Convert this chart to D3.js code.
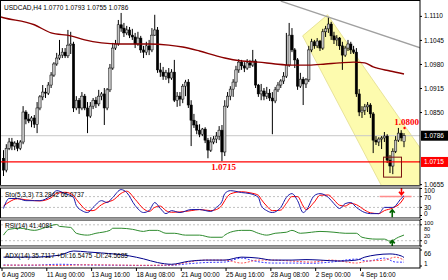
<!DOCTYPE html>
<html>
<head>
<meta charset="utf-8">
<script src="https://cdn.jsdelivr.net/npm/d3@7"></script>
<style>
  body { margin: 0; background: #fff; }
  svg text { font-family: "Liberation Sans", Arial, sans-serif; font-size: 6.5px; fill: #000; }
</style>
</head>
<body>
<svg id="chart" width="448" height="280"></svg>
<script>
// USDCAD H4 candles, [open, high, low, close], 6 Aug 08:00 .. 8 Sep 2009
const candles = [
  [1.0725,1.0747,1.0677,1.0693],[1.0693,1.0763,1.0687,1.0752],[1.0752,1.0780,1.0747,1.0769],[1.0769,1.0780,1.0747,1.0758],
  [1.0758,1.0771,1.0747,1.0766],[1.0766,1.0774,1.0744,1.0752],[1.0752,1.0774,1.0747,1.0769],[1.0769,1.0866,1.0763,1.0850],
  [1.0850,1.0855,1.0817,1.0831],[1.0831,1.0845,1.0820,1.0826],[1.0826,1.0839,1.0809,1.0834],[1.0834,1.0842,1.0807,1.0817],
  [1.0817,1.0877,1.0793,1.0861],[1.0861,1.0896,1.0855,1.0891],[1.0891,1.0923,1.0882,1.0904],[1.0904,1.0915,1.0888,1.0901],
  [1.0901,1.0931,1.0896,1.0923],[1.0923,1.0958,1.0915,1.0950],[1.0950,1.0985,1.0945,1.0980],[1.0980,1.1010,1.0975,1.0996],
  [1.0996,1.1045,1.0991,1.1004],[1.1004,1.1023,1.0996,1.1012],[1.1012,1.1023,1.0996,1.1002],[1.1002,1.1072,1.0996,1.1031],
  [1.1031,1.1067,1.1007,1.1034],[1.1034,1.1040,1.0850,1.0861],[1.0861,1.0893,1.0855,1.0882],[1.0882,1.0888,1.0845,1.0861],
  [1.0861,1.0904,1.0855,1.0893],[1.0893,1.0899,1.0855,1.0861],[1.0861,1.0877,1.0793,1.0839],[1.0839,1.0877,1.0834,1.0866],
  [1.0866,1.0888,1.0858,1.0882],[1.0882,1.0891,1.0861,1.0872],[1.0872,1.0910,1.0866,1.0893],[1.0893,1.0904,1.0882,1.0899],
  [1.0899,1.0915,1.0815,1.0861],[1.0861,1.0915,1.0855,1.0910],[1.0910,1.0980,1.0904,1.0969],[1.0969,1.1037,1.0964,1.1023],
  [1.1023,1.1045,1.1018,1.1034],[1.1034,1.1099,1.1029,1.1086],[1.1086,1.1118,1.1067,1.1077],[1.1077,1.1091,1.1053,1.1064],
  [1.1064,1.1083,1.1058,1.1072],[1.1072,1.1080,1.1050,1.1058],[1.1058,1.1075,1.1045,1.1053],[1.1053,1.1064,1.1023,1.1034],
  [1.1034,1.1067,1.1029,1.1050],[1.1050,1.1056,1.1010,1.1018],[1.1018,1.1029,1.0996,1.1012],[1.1012,1.1040,1.1004,1.1029],
  [1.1029,1.1045,1.1004,1.1018],[1.1018,1.1077,1.1012,1.1058],[1.1058,1.1113,1.1056,1.1072],[1.1072,1.1080,1.0956,1.0964],
  [1.0964,1.0983,1.0945,1.0958],[1.0958,1.0972,1.0937,1.0947],[1.0947,1.0964,1.0937,1.0956],[1.0956,1.0969,1.0928,1.0942],
  [1.0942,1.0966,1.0937,1.0958],[1.0958,1.0991,1.0877,1.0882],[1.0882,1.0904,1.0864,1.0893],[1.0893,1.0904,1.0866,1.0885],
  [1.0885,1.0926,1.0874,1.0920],[1.0920,1.0937,1.0893,1.0931],[1.0931,1.0939,1.0861,1.0869],[1.0869,1.0882,1.0758,1.0828],
  [1.0828,1.0845,1.0807,1.0815],[1.0815,1.0826,1.0790,1.0801],[1.0801,1.0817,1.0782,1.0790],[1.0790,1.0807,1.0785,1.0804],
  [1.0804,1.0809,1.0766,1.0774],[1.0774,1.0780,1.0725,1.0747],[1.0747,1.0782,1.0742,1.0769],[1.0769,1.0785,1.0763,1.0777],
  [1.0777,1.0796,1.0766,1.0785],[1.0785,1.0812,1.0774,1.0801],[1.0801,1.0815,1.0717,1.0742],[1.0742,1.0882,1.0731,1.0866],
  [1.0866,1.0904,1.0861,1.0893],[1.0893,1.0920,1.0882,1.0912],[1.0912,1.0939,1.0891,1.0931],[1.0931,1.0975,1.0918,1.0964],
  [1.0964,1.0993,1.0956,1.0985],[1.0985,1.0991,1.0964,1.0975],[1.0975,1.0985,1.0958,1.0969],[1.0969,1.0993,1.0964,1.0983],
  [1.0983,1.0991,1.0969,1.0977],[1.0977,1.1018,1.0972,1.0988],[1.0988,1.0993,1.0915,1.0923],[1.0923,1.0926,1.0891,1.0899],
  [1.0899,1.0926,1.0882,1.0907],[1.0907,1.0915,1.0882,1.0893],[1.0893,1.0918,1.0885,1.0901],[1.0901,1.0912,1.0880,1.0888],
  [1.0888,1.0904,1.0790,1.0880],[1.0880,1.0918,1.0874,1.0910],[1.0910,1.0931,1.0904,1.0923],[1.0923,1.0939,1.0915,1.0934],
  [1.0934,1.0958,1.0926,1.0947],[1.0947,1.1064,1.0942,1.0977],[1.0977,1.1091,1.0972,1.1058],[1.1058,1.1077,1.1012,1.1018],
  [1.1018,1.1023,1.0969,1.0991],[1.0991,1.0996,1.0910,1.0920],[1.0920,1.0956,1.0915,1.0939],[1.0939,1.0945,1.0869,1.0926],
  [1.0926,1.0942,1.0915,1.0937],[1.0937,1.1029,1.0931,1.1018],[1.1018,1.1048,1.1012,1.1040],[1.1040,1.1045,1.1021,1.1029],
  [1.1029,1.1050,1.1023,1.1042],[1.1042,1.1045,1.1015,1.1023],[1.1023,1.1075,1.1018,1.1067],[1.1067,1.1083,1.1053,1.1075],
  [1.1075,1.1105,1.1064,1.1088],[1.1088,1.1094,1.1045,1.1056],[1.1056,1.1067,1.1034,1.1045],[1.1045,1.1058,1.1029,1.1050],
  [1.1050,1.1053,1.1018,1.1029],[1.1029,1.1040,1.0964,1.1004],[1.1004,1.1029,1.0999,1.1023],[1.1023,1.1045,1.1015,1.1034],
  [1.1034,1.1040,1.1007,1.1018],[1.1018,1.1029,1.1007,1.1012],[1.1012,1.1023,1.0891,1.0899],[1.0899,1.0912,1.0839,1.0850],
  [1.0850,1.0866,1.0834,1.0855],[1.0855,1.0872,1.0842,1.0864],[1.0864,1.0877,1.0850,1.0869],[1.0869,1.0874,1.0834,1.0845],
  [1.0845,1.0850,1.0739,1.0774],[1.0774,1.0785,1.0761,1.0769],[1.0769,1.0782,1.0758,1.0777],[1.0777,1.0785,1.0750,1.0780],
  [1.0780,1.0796,1.0769,1.0785],[1.0785,1.0790,1.0712,1.0720],[1.0720,1.0734,1.0685,1.0704],[1.0704,1.0752,1.0682,1.0744],
  [1.0744,1.0785,1.0739,1.0774],[1.0774,1.0807,1.0769,1.0793],[1.0793,1.0801,1.0771,1.0780],[1.0770,1.0793,1.0755,1.0786]
];

// moving average: [bar, price]
const maPoints = [[-1,1.1107],[0,1.1105],[11,1.1086],[17,1.1064],[24,1.1056],[29,1.1045],[35,1.1037],[41,1.1034],[46,1.1034],
  [52,1.1034],[59,1.1031],[64,1.1026],[70,1.1015],[76,1.1002],[79,1.0996],[85,1.0988],[91,1.0985],[97,1.0980],[103,1.0977],
  [109,1.0977],[115,1.0980],[120,1.0983],[125,1.0985],[129,1.0983],[132,1.0972],[138,1.0961],[143,1.0953]];

// Stochastic(5,3,3): [bar, value]
const stochMain = [[0,26],[2,63],[5,63],[8,55],[11,55],[13,55],[17,74],[19,92],[22,81],[25,67],[26,37],[28,18],[30,11],[32,30],
  [35,55],[37,48],[39,67],[42,96],[44,85],[47,37],[50,11],[52,18],[54,48],[56,26],[58,7],[60,18],[63,11],[67,22],[70,22],[74,15],
  [76,30],[78,52],[79,81],[81,92],[85,85],[88,81],[91,67],[92,37],[94,18],[96,11],[99,30],[101,67],[103,81],[105,55],[107,11],
  [108,18],[111,74],[113,81],[116,67],[118,44],[120,26],[122,44],[124,48],[126,30],[129,11],[131,7],[134,7],[136,30],[139,30],
  [142,63],[143,73.28]];
const stochSignal = [[0,35],[2,50],[5,62],[8,58],[11,55],[13,54],[17,66],[19,82],[22,86],[25,74],[26,60],[28,35],[30,18],[32,18],
  [35,40],[37,50],[39,56],[42,82],[44,90],[47,60],[50,25],[52,15],[54,30],[56,35],[58,18],[60,12],[63,13],[67,18],[70,22],[74,18],
  [76,22],[78,38],[79,55],[81,80],[85,88],[88,84],[91,75],[92,60],[94,35],[96,18],[99,20],[101,45],[103,70],[105,70],[107,35],
  [108,22],[111,50],[113,75],[116,76],[118,58],[120,38],[122,35],[124,45],[126,40],[129,20],[131,10],[134,7],[136,18],[139,28],
  [142,50],[143,66.07]];

// RSI(14)
const rsiPoints = [[0,41],[2,63],[6,67],[11,59],[15,70],[19,81],[20,74],[24,70],[26,48],[30,41],[33,48],[38,59],[39,67],[42,67],
  [46,63],[50,55],[52,59],[55,59],[58,48],[61,48],[65,41],[70,41],[74,33],[78,33],[79,41],[81,52],[85,59],[88,59],[91,48],[94,41],
  [97,48],[101,52],[103,59],[106,48],[110,52],[113,55],[118,52],[122,48],[126,48],[128,33],[133,26],[136,26],[138,18],[141,33],
  [143,41.41]];

// ADX(14), +DI, -DI
const adxPoints = [[0,37],[10,37],[20,45],[25,62],[30,58],[35,54],[45,42],[50,30],[55,15],[60,8],[66,20],[72,25],[79,25],[85,37],
  [91,33],[96,25],[103,25],[108,27],[113,25],[120,21],[126,25],[129,37],[133,46],[138,50],[142,42],[143,35.71]];
const plusDi = [[0,5],[10,4],[20,8],[30,5],[40,4],[50,3],[60,4],[66,10],[72,15],[79,17],[85,33],[90,20],[96,13],[103,13],[110,12],
  [117,17],[126,29],[130,21],[136,33],[140,17],[143,16.55]];
const minusDi = [[0,4],[10,5],[20,3],[30,6],[40,5],[50,4],[60,5],[66,17],[72,25],[79,25],[85,13],[91,25],[96,25],[103,21],[110,17],
  [117,25],[126,13],[130,21],[136,25],[140,37],[143,24.57]];

const priceTicks = [1.1110, 1.1045, 1.0980, 1.0915, 1.0850, 1.0655];
const dateBars = [0, 16, 32, 48, 64, 80, 96, 112, 128];
const dateLabels = ["6 Aug 2009","11 Aug 00:00","13 Aug 16:00","18 Aug 08:00","21 Aug 00:00","25 Aug 16:00","28 Aug 08:00","2 Sep 00:00","4 Sep 16:00"];

// drawn objects
const supportLevel = 1.0715;
const bidPrice = 1.0786;
const trendLine = [[99,1.1150],[149,1.1023]];
const channel = [[106.8,1.1056],[115.7,1.1113],[149.3,1.0747],[149.3,1.0640],[135.7,1.0640]];
const boxBars = [135.7, 142.1], boxPrices = [1.0674, 1.0728];

const svg = d3.select("#chart");
const plotR = 420;
const panels = { main:[0.5,185.5], stoch:[188,218], rsi:[220,246], adx:[248,268] };

const x = d3.scaleLinear().domain([0,143]).range([3.5,404]);
const y = d3.scaleLinear().domain([1.0650,1.1153]).range([186,0]);
const yStoch = d3.scaleLinear().domain([0,100]).range([215.5,188.5]);
const yRsi = d3.scaleLinear().domain([0,100]).range([246,219.5]);
const yAdx = d3.scaleLinear().domain([1,66]).range([266,250]);

// clip paths per panel
const defs = svg.append("defs");
Object.entries(panels).forEach(([k,[t,b]]) => {
  defs.append("clipPath").attr("id","clip-"+k)
    .append("rect").attr("x",1).attr("y",t+0.5).attr("width",plotR-1).attr("height",b-t-1);
});

const main = svg.append("g").attr("clip-path","url(#clip-main)");

// yellow channel
main.append("path")
  .attr("d", d3.line().x(d => x(d[0])).y(d => y(d[1]))(channel) + "Z")
  .attr("fill","#fdfbae").attr("stroke","#e2dc8c").attr("stroke-width",0.8);

// bid line
main.append("line").attr("x1",1).attr("x2",plotR).attr("y1",y(bidPrice)).attr("y2",y(bidPrice))
  .attr("stroke","#c8c8c8").attr("stroke-width",1);

// gray trend line
main.append("line")
  .attr("x1",x(trendLine[0][0])).attr("y1",y(trendLine[0][1]))
  .attr("x2",x(trendLine[1][0])).attr("y2",y(trendLine[1][1]))
  .attr("stroke","#a0a0a0").attr("stroke-width",1.3);

// candles
const cg = main.append("g");
candles.forEach((c,i) => {
  const [o,h,l,cl] = c;
  const cx = x(i);
  cg.append("line").attr("x1",cx).attr("x2",cx).attr("y1",y(h)).attr("y2",y(l))
    .attr("stroke","#000").attr("stroke-width",1);
  const top = y(Math.max(o,cl)), bot = y(Math.min(o,cl));
  cg.append("rect").attr("x",cx-1.2).attr("width",2.4)
    .attr("y",top).attr("height",Math.max(0.8,bot-top))
    .attr("fill", cl >= o ? "#c4c4c4" : "#000")
    .attr("stroke","#000").attr("stroke-width",0.5);
});

// moving average
main.append("path").datum(maPoints)
  .attr("d", d3.line().x(d => x(d[0])).y(d => y(d[1])).curve(d3.curveMonotoneX))
  .attr("fill","none").attr("stroke","#8b0000").attr("stroke-width",1.4);

// support line
main.append("line").attr("x1",1).attr("x2",plotR).attr("y1",y(supportLevel)).attr("y2",y(supportLevel))
  .attr("stroke","#ff0000").attr("stroke-width",1.2);

// rectangle around the low
main.append("rect")
  .attr("x",x(boxBars[0])).attr("width",x(boxBars[1])-x(boxBars[0]))
  .attr("y",y(boxPrices[1])).attr("height",y(boxPrices[0])-y(boxPrices[1]))
  .attr("fill","none").attr("stroke","#7a1010").attr("stroke-width",1);

// red text labels
function redText(bar, price, label) {
  svg.append("text").attr("x",x(bar)).attr("y",y(price)).attr("dy","0.35em").attr("text-anchor","middle")
    .style("font-family","'Liberation Serif','Times New Roman',serif").style("font-size","9px").style("font-weight","bold")
    .style("fill","#ff0000").text(label);
}
redText(78.6, 1.0701, "1.0715");
redText(143.9, 1.0824, "1.0800");
main.append("circle").attr("cx",x(143.2)).attr("cy",y(1.0807)).attr("r",1.2).attr("fill","#ff0000");

// title
svg.append("text").attr("x",4).attr("y",7.5).attr("dy","0.35em").text("USDCAD,H4  1.0770 1.0793 1.0755 1.0786");

// ---- stochastic panel
const sg = svg.append("g").attr("clip-path","url(#clip-stoch)");
[70,30].forEach(v => sg.append("line").attr("x1",1).attr("x2",plotR).attr("y1",yStoch(v)).attr("y2",yStoch(v))
  .attr("stroke","#c0c0c0").attr("stroke-dasharray","2,2"));
sg.append("line").attr("x1",x(134.3)).attr("x2",x(145.7)).attr("y1",yStoch(70)).attr("y2",yStoch(70))
  .attr("stroke","#ff8c8c").attr("stroke-width",1.5);
const lineS = d3.line().x(d => x(d[0])).y(d => yStoch(d[1])).curve(d3.curveMonotoneX);
sg.append("path").datum(stochSignal).attr("d",lineS).attr("fill","none").attr("stroke","#ff0000").attr("stroke-width",1);
sg.append("path").datum(stochMain).attr("d",lineS).attr("fill","none").attr("stroke","#1a1aa8").attr("stroke-width",1);
svg.append("text").attr("x",5).attr("y",194.5).attr("dy","0.35em").text("Sto(5,3,3) 73.2842 66.0737");

// ---- RSI panel
const rg = svg.append("g").attr("clip-path","url(#clip-rsi)");
[80,20].forEach(v => rg.append("line").attr("x1",1).attr("x2",plotR).attr("y1",yRsi(v)).attr("y2",yRsi(v))
  .attr("stroke","#c0c0c0").attr("stroke-dasharray","2,2"));
rg.append("path").datum(rsiPoints)
  .attr("d", d3.line().x(d => x(d[0])).y(d => yRsi(d[1])).curve(d3.curveMonotoneX))
  .attr("fill","none").attr("stroke","#2e8b2e").attr("stroke-width",1);
svg.append("text").attr("x",5).attr("y",226).attr("dy","0.35em").text("RSI(14) 41.4081");

// ---- ADX panel
const ag = svg.append("g").attr("clip-path","url(#clip-adx)");
const lineA = d3.line().x(d => x(d[0])).y(d => yAdx(d[1])).curve(d3.curveMonotoneX);
ag.append("path").datum(plusDi).attr("d",lineA).attr("fill","none").attr("stroke","#3a3aff").attr("stroke-dasharray","2,1.5");
ag.append("path").datum(minusDi).attr("d",lineA).attr("fill","none").attr("stroke","#ff5050").attr("stroke-dasharray","2,1.5");
ag.append("path").datum(adxPoints).attr("d",lineA).attr("fill","none").attr("stroke","#00008b").attr("stroke-width",1);
svg.append("text").attr("x",5).attr("y",256).attr("dy","0.35em").text("ADX(14) 35.7117 +DI:16.5475 -DI:24.5685");

// arrows (signal marks)
function arrow(cx, cy, dir, color) {
  const p = d3.path();
  p.moveTo(cx, cy - 4*dir); p.lineTo(cx, cy + 3*dir);
  p.moveTo(cx - 2.5, cy + 0.5*dir); p.lineTo(cx, cy + 3.5*dir); p.lineTo(cx + 2.5, cy + 0.5*dir);
  svg.append("path").attr("d", p.toString()).attr("fill","none").attr("stroke",color).attr("stroke-width",1.6);
}
arrow(x(142.1), yStoch(90), 1, "#ff0000");
arrow(x(138.8), yStoch(8), -1, "#006400");
arrow(x(138.8), yRsi(8), -1, "#006400");

// ---- frames and separators
Object.values(panels).forEach(([t,b]) => {
  svg.append("rect").attr("x",0.5).attr("y",t).attr("width",plotR-0.5).attr("height",b-t)
    .attr("fill","none").attr("stroke","#000").attr("stroke-width",1);
});
[[185.5,188],[218,220],[246,248]].forEach(([a,b]) => {
  svg.append("rect").attr("x",0).attr("y",a).attr("width",plotR+0.5).attr("height",b-a).attr("fill","#9c9c9c");
});

// price axis
const pa = svg.append("g").attr("transform",`translate(${plotR},0)`)
  .call(d3.axisRight(y).tickValues(priceTicks).tickFormat(d3.format(".4f")).tickSize(2).tickPadding(2));
pa.select(".domain").remove();
pa.selectAll("text").style("font-size","6.5px").style("font-family","'Liberation Sans',Arial,sans-serif");

// price flags
function flag(v, bg, label) {
  svg.append("rect").attr("x",plotR+1).attr("y",y(v)-5).attr("width",27).attr("height",10).attr("fill",bg);
  svg.append("text").attr("x",plotR+4).attr("y",y(v)).attr("dy","0.35em").style("fill","#fff").text(label);
}
flag(bidPrice, "#000", "1.0786");
flag(supportLevel, "#ff0000", "1.0715");

// indicator scale labels: tick at the level, text nudged so labels do not collide
function sideLabels(scale, vals, textY, size) {
  vals.forEach((v,i) => {
    svg.append("line").attr("x1",plotR).attr("x2",plotR+2).attr("y1",scale(v)).attr("y2",scale(v)).attr("stroke","#000");
    svg.append("text").attr("x",plotR+4).attr("y",textY[i]).attr("dy","0.35em").style("font-size",size).text(v);
  });
}
sideLabels(yStoch, [100,70,30,0], [191,197.6,207.4,213.6], "6.5px");
sideLabels(yRsi, [100,80,20,0], [223,229,236,242.3], "5.6px");
sideLabels(yAdx, [66,1], [254,263.3], "6.5px");

// date axis
const da = svg.append("g").attr("transform","translate(0,268)")
  .call(d3.axisBottom(x).tickValues(dateBars).tickFormat((d,i) => dateLabels[i]).tickSize(3).tickPadding(1));
da.select(".domain").remove();
da.selectAll(".tick line").attr("x1",-2).attr("x2",-2);
da.selectAll(".tick text").attr("x",-2).attr("text-anchor","start")
  .style("font-size","6.5px").style("font-family","'Liberation Sans',Arial,sans-serif");
</script>
</body>
</html>
